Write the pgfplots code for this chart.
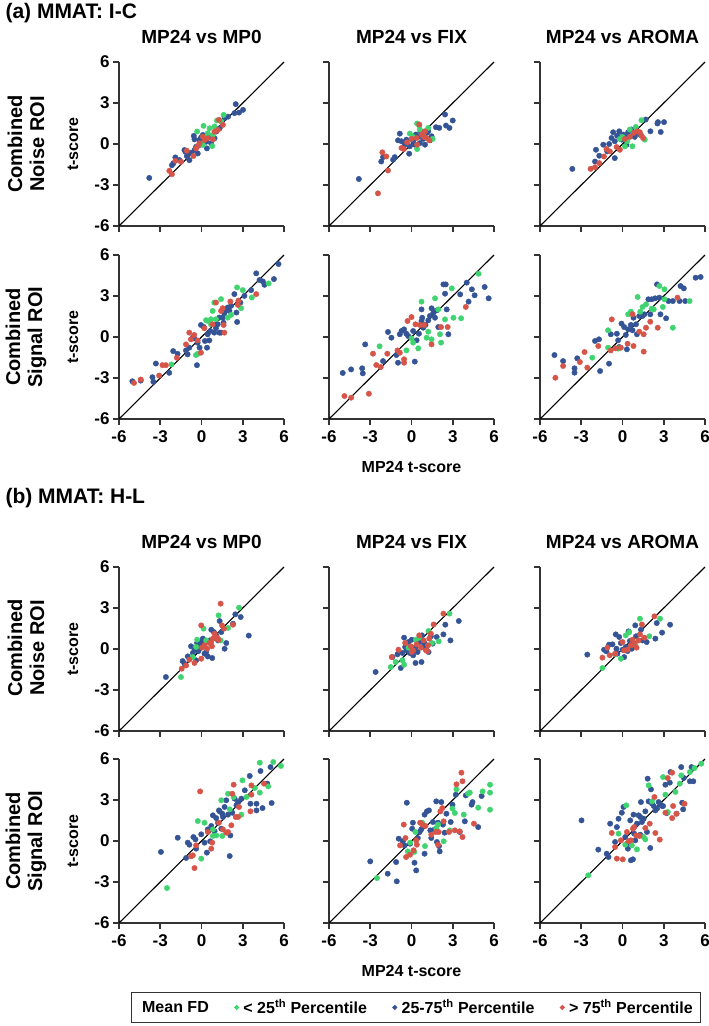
\documentclass[border=0pt]{standalone}
\usepackage{fontspec}
\setmainfont{Liberation Sans}
\usepackage{pgfplots}
\pgfplotsset{compat=1.18}
\definecolor{cg}{RGB}{64,212,112}
\definecolor{cb}{RGB}{52,84,150}
\definecolor{cr}{RGB}{214,84,72}
\newcommand{\fz}[1]{\fontsize{#1}{#1}\selectfont}
\pgfplotsset{
  panel/.style={
    width=165pt, height=164pt, scale only axis, anchor=south west,
    xmin=-6,xmax=6,ymin=-6,ymax=6,
    axis x line*=bottom, axis y line*=left,
    axis line style={-, line width=1.7pt, draw=black!80},
    xtick={-6,-3,0,3,6}, ytick={-6,-3,0,3,6},
    tick align=outside, major tick length=6pt,
    tick style={line width=1.7pt, black!80},
    xticklabels={}, yticklabels={},
    ticklabel style={font=\bfseries\fz{17}, text=black},
    xticklabel style={yshift=-2pt},
    clip=false,
  },
  xlab/.style={xticklabels={-6,-3,0,3,6}},
  ylab/.style={yticklabels={-6,-3,0,3,6}, ylabel={t-score},
     ylabel style={at={(axis description cs:-0.279,0.5)}, anchor=center, font=\bfseries\fz{16}}},
  ctitle/.style={title={#1}, title style={at={(axis description cs:0.5,1)}, anchor=base, yshift=13pt, font=\bfseries\fz{19}}},
}
\newcommand{\pts}[2]{\addplot[only marks, mark=*, mark size=2.7pt, color=#1] coordinates {#2};}
\newcommand{\diag}{\addplot[black, line width=1.1pt, no marks] coordinates {(-6,-6) (6,6)};}
\begin{document}
\begin{tikzpicture}
\useasboundingbox (0,0) rectangle (709pt,-1026pt);
\node[anchor=base west, font=\bfseries\fz{21}] at (2pt,-18pt) {(a) MMAT: I-C};
\node[anchor=base west, font=\bfseries\fz{21}] at (2pt,-503pt) {(b) MMAT: H-L};
\node[rotate=90, align=center, font=\bfseries\fontsize{20}{22}\selectfont] at (26pt,-144pt) {Combined\\Noise ROI};
\node[rotate=90, align=center, font=\bfseries\fontsize{20}{22}\selectfont] at (26pt,-337pt) {Combined\\Signal ROI};
\node[rotate=90, align=center, font=\bfseries\fontsize{20}{22}\selectfont] at (26pt,-648pt) {Combined\\Noise ROI};
\node[rotate=90, align=center, font=\bfseries\fontsize{20}{22}\selectfont] at (26pt,-841pt) {Combined\\Signal ROI};

% ===== (a) row 1 =====
\begin{axis}[panel, ylab, ctitle={MP24 vs MP0}, at={(119pt,-226pt)}]
\diag
\pts{cb}{(-3.8,-2.48) (2.49,2.92) (2.4,2.26) (2.73,2.3) (3.02,2.5) (1.93,2.0) (1.68,1.9) (1.32,1.15) (-2.15,-1.55) (-2.05,-1.42) (-1.9,-0.98) (-1.6,-1.18) (-1.24,-0.44) (-1.07,-0.88) (-0.88,-1.18) (-0.76,-0.64) (-0.51,-0.44) (-0.39,-0.2) (-0.15,-0.07) (-0.15,0.3) (-0.02,0.5) (0.1,0.66) (0.34,0.17) (0.39,-0.32) (0.59,0.54) (0.7,0.05) (0.95,0.42) (1.07,0.91) (-0.56,0.59) (-0.51,0.34) (-0.27,-0.69) (-0.93,-0.69) (-1.17,-0.56)}
\pts{cg}{(-0.32,0.91) (0.15,1.33) (0.59,1.15) (0.95,1.28) (1.12,1.72) (1.61,2.13) (1.44,1.64) (0.78,-0.15) (0.34,0.5) (0.1,-0.07) (0.83,0.66) (0.46,0.79)}
\pts{cr}{(-2.34,-1.96) (-2.15,-2.21) (-1.9,-1.23) (-1.49,-1.3) (-1.07,-0.49) (-0.59,-0.88) (-0.39,-0.32) (-0.15,0.05) (0.22,0.3) (0.46,0.42) (0.83,0.34) (0.95,0.91) (1.2,1.03) (1.27,1.77) (1.56,1.4) (0.1,0.54) (-0.27,-0.15)}
\end{axis}
\begin{axis}[panel, ctitle={MP24 vs FIX}, at={(329pt,-226pt)}]
\diag
\pts{cb}{(-3.83,-2.56) (-2.2,-1.28) (-2.07,-0.96) (-1.34,-1.15) (-1.22,-0.96) (-0.85,0.76) (-0.98,0.27) (-0.73,0.2) (-0.49,-0.05) (-0.37,0.32) (-0.17,-0.71) (-0.12,-0.17) (0.12,0.2) (0.32,0.69) (0.49,0.52) (0.66,0.93) (0.85,0.37) (1.1,0.81) (1.22,0.93) (1.34,0.27) (1.46,0.57) (1.78,1.23) (2.02,1.18) (2.44,2.16) (2.51,1.35) (2.76,1.18) (3.0,1.72) (0.61,0.07) (0.24,-0.05) (0.98,-0.05)}
\pts{cg}{(-0.12,0.76) (0.41,1.5) (0.56,1.35) (0.61,1.06) (1.22,1.18) (1.54,0.37) (0.41,-0.37) (0.85,0.61) (0.12,0.52)}
\pts{cr}{(-2.44,-3.61) (-1.71,-1.94) (-2.12,-0.61) (-1.83,-0.91) (-0.73,-0.29) (-0.56,-0.37) (-0.32,0.12) (0.0,0.37) (0.37,0.44) (0.56,1.43) (0.73,0.69) (0.9,0.52) (1.1,0.44) (1.29,0.27) (0.98,0.93) (0.41,-0.05)}
\end{axis}
\begin{axis}[panel, ctitle={MP24 vs AROMA}, at={(540pt,-226pt)}]
\diag
\pts{cb}{(-3.65,-1.82) (-1.93,-0.42) (-1.69,-0.86) (-2.0,-1.28) (-1.4,-0.05) (-1.11,-0.54) (-0.97,0.0) (-0.8,0.44) (-0.68,0.86) (-0.56,0.2) (-0.39,0.61) (-0.24,0.93) (-0.56,-1.03) (-0.07,0.32) (0.05,0.69) (0.24,0.52) (0.41,0.86) (0.65,1.06) (0.89,0.52) (1.06,0.86) (1.26,0.69) (1.69,1.79) (2.03,0.93) (2.54,1.5) (2.58,1.6) (3.02,1.6) (2.78,0.88) (0.29,-0.05)}
\pts{cg}{(0.0,0.52) (0.34,0.2) (0.53,1.06) (0.72,-0.17) (0.97,1.25) (1.38,1.74) (1.62,0.32) (0.17,-0.17) (-0.19,0.37)}
\pts{cr}{(-2.32,-1.82) (-2.0,-1.7) (-1.69,-1.4) (-1.35,-0.91) (-1.16,-0.37) (-0.92,-0.54) (-0.43,-0.22) (-0.19,-0.42) (0.17,0.37) (0.53,0.52) (0.82,0.81) (1.06,0.93) (1.26,0.86) (1.38,0.61) (1.5,0.44)}
\end{axis}

% ===== (a) row 2 =====
\begin{axis}[panel, ylab, xlab, at={(119pt,-419pt)}]
\diag
\pts{cb}{(-5.03,-3.24) (-4.42,-3.19) (-3.57,-2.94) (-3.5,-3.28) (-3.32,-1.94) (-2.35,-2.62) (-2.06,-1.03) (-1.74,-1.23) (-1.13,-0.98) (-1.01,-1.27) (-0.89,-0.78) (-0.65,-0.05) (-0.53,-0.1) (-0.33,-2.06) (-0.28,-0.42) (-0.14,-0.78) (-0.04,0.88) (0.16,0.74) (0.25,-0.29) (0.4,-0.78) (0.45,0.2) (0.57,-0.25) (0.64,0.44) (0.93,0.32) (1.05,0.64) (1.18,0.93) (1.3,0.32) (1.42,0.32) (1.54,1.42) (1.66,1.72) (1.79,2.03) (1.91,2.16) (2.03,1.91) (2.15,2.28) (2.39,3.14) (2.54,1.79) (2.59,1.1) (2.69,2.65) (2.83,2.52) (3.12,3.01) (3.61,3.43) (3.98,4.66) (4.22,4.17) (4.46,4.07) (4.58,3.82) (5.27,4.24) (5.6,5.34) (1.3,1.42) (1.6,1.05)}
\pts{cg}{(-2.18,-2.01) (-0.4,-1.32) (-0.28,-1.23) (0.33,1.23) (0.69,1.3) (0.81,1.91) (0.93,2.52) (1.42,2.77) (1.91,1.42) (2.15,1.62) (2.59,3.63) (3.0,3.43) (2.88,2.11) (3.66,2.89) (4.88,3.92) (1.05,1.3) (0.69,0.93) (0.45,1.18)}
\pts{cr}{(-4.91,-3.36) (-4.42,-3.11) (-3.08,-2.82) (-2.84,-2.06) (-2.59,-2.06) (-1.79,-1.52) (-1.13,-0.54) (-0.89,0.32) (-0.77,-0.17) (-0.53,0.15) (-0.28,-0.25) (-0.04,-1.15) (0.21,0.64) (0.81,0.93) (1.05,2.52) (1.42,1.91) (1.54,2.11) (1.61,0.88) (1.66,0.32) (2.1,2.6) (2.64,2.35) (2.69,2.65) (3.98,3.14)}
\end{axis}
\begin{axis}[panel, xlab, xlabel={MP24 t-score}, xlabel style={at={(axis description cs:0.5,0)}, anchor=center, yshift=-48pt, font=\bfseries\fz{16}}, at={(329pt,-419pt)}]
\diag
\pts{cb}{(-5.0,-2.63) (-4.39,-2.37) (-3.59,-2.29) (-3.54,-2.66) (-3.37,-0.54) (-2.07,-1.76) (-1.71,0.37) (-1.46,-0.05) (-1.1,-1.32) (-0.98,-1.88) (-0.85,0.2) (-0.73,0.44) (-0.54,0.56) (-0.37,0.24) (-0.24,0.07) (0.12,0.44) (0.24,-1.8) (0.37,-0.24) (0.54,0.24) (0.73,2.02) (0.78,1.41) (0.85,0.68) (1.02,0.88) (1.22,1.22) (1.34,1.54) (1.46,2.1) (1.59,1.78) (1.71,1.41) (1.83,1.95) (1.95,0.73) (2.32,3.85) (2.44,3.17) (2.56,2.02) (2.68,0.2) (2.49,3.85) (3.54,3.12) (4.02,3.98) (4.15,2.59) (4.39,3.49) (4.59,3.05) (5.32,3.66) (5.61,2.83) (0.73,1.17)}
\pts{cg}{(-2.32,-0.68) (-0.37,-0.98) (0.0,-0.1) (0.49,-0.83) (0.73,2.59) (1.1,-0.05) (1.22,0.39) (1.46,-0.17) (1.71,2.83) (1.95,2.02) (2.07,0.2) (2.15,-0.41) (2.44,1.29) (2.93,3.56) (3.05,1.41) (3.61,1.37) (4.88,4.63) (0.12,-0.41)}
\pts{cr}{(-4.88,-4.32) (-4.39,-4.44) (-3.1,-4.15) (-2.8,-1.22) (-2.56,-2.05) (-2.24,-2.2) (-1.76,-1.22) (-1.02,-0.98) (-0.85,-1.15) (-0.54,-1.88) (-0.54,-1.63) (0.0,1.46) (0.29,0.93) (0.61,0.88) (0.93,0.88) (1.46,-0.54) (2.15,0.73) (2.63,0.73) (3.95,2.2) (-0.29,1.17)}
\end{axis}
\begin{axis}[panel, xlab, at={(540pt,-419pt)}]
\diag
\pts{cb}{(-4.95,-1.32) (-4.32,-1.76) (-3.49,-2.29) (-3.49,-2.61) (-3.29,-1.56) (-2.0,-0.29) (-1.63,-2.49) (-1.71,-0.17) (-0.98,-1.95) (-0.85,0.2) (-0.41,0.24) (-0.32,-0.24) (-0.24,-0.73) (0.12,0.73) (0.24,0.15) (0.32,-0.9) (0.41,0.56) (0.61,0.88) (0.8,1.41) (0.73,0.49) (0.98,0.93) (1.05,0.2) (1.22,1.54) (1.46,1.54) (1.59,1.66) (1.88,2.76) (2.02,1.66) (2.12,2.76) (2.37,2.83) (2.51,3.85) (2.68,2.88) (2.76,1.66) (3.17,1.37) (3.34,2.63) (3.66,2.63) (4.15,2.63) (4.22,3.73) (4.46,3.56) (4.56,2.63) (5.32,4.34) (5.68,4.39) (-0.07,0.98)}
\pts{cg}{(-2.2,-1.51) (-1.05,0.49) (-0.32,-0.85) (-0.17,-0.78) (0.41,1.66) (0.61,1.85) (1.1,2.93) (1.29,1.85) (1.46,2.2) (1.71,2.39) (2.12,2.07) (2.27,2.02) (2.68,3.73) (2.93,2.2) (3.05,2.76) (3.05,3.49) (3.66,0.68) (4.88,2.63) (-1.05,-0.78)}
\pts{cr}{(-4.88,-2.98) (-4.32,-2.12) (-3.1,-1.83) (-2.76,-1.1) (-2.56,-2.24) (-1.76,-0.66) (-0.85,-0.98) (-0.78,1.29) (-0.49,-0.83) (-0.12,-0.78) (0.37,-0.49) (0.8,-0.66) (1.22,0.39) (1.54,0.2) (1.54,-1.07) (1.71,0.68) (2.02,1.12) (2.56,0.68) (4.0,2.88) (0.73,1.66)}
\end{axis}

% ===== (b) row 1 =====
\begin{axis}[panel, ylab, ctitle={MP24 vs MP0}, at={(119pt,-731pt)}]
\diag
\pts{cb}{(-2.59,-2.05) (-1.37,-0.88) (-1.24,-1.07) (-1.0,-0.54) (-0.76,0.2) (-0.63,-0.29) (-0.51,-0.05) (-0.39,-0.83) (-0.32,0.44) (-0.22,-0.15) (-0.07,0.1) (-0.02,0.51) (0.1,0.76) (0.22,-0.34) (0.34,-0.22) (0.46,-0.54) (0.59,0.63) (0.71,1.41) (0.78,-0.66) (0.9,1.24) (1.07,1.0) (1.2,0.63) (1.32,2.05) (1.44,1.24) (1.68,0.02) (1.8,0.44) (2.29,1.85) (2.46,2.54) (2.85,2.34) (3.44,0.98) (-0.15,0.39) (0.1,0.2)}
\pts{cg}{(-1.49,-2.05) (-0.63,-0.59) (-0.32,0.68) (0.15,1.49) (0.34,0.63) (1.24,2.46) (1.39,0.63) (1.93,1.54) (2.73,3.02) (-0.39,0.15)}
\pts{cr}{(-1.44,-1.44) (-1.12,-1.2) (-0.88,-0.78) (-0.51,-1.02) (-0.02,-0.71) (-0.02,1.73) (0.02,0.1) (0.22,0.27) (0.41,0.02) (0.59,0.44) (0.76,0.2) (0.83,0.76) (0.95,1.12) (1.15,0.83) (1.24,0.68) (1.39,3.32) (1.49,1.73) (1.63,1.49) (2.29,1.78) (0.71,0.51)}
\end{axis}
\begin{axis}[panel, ctitle={MP24 vs FIX}, at={(329pt,-731pt)}]
\diag
\pts{cb}{(-2.61,-1.68) (-0.78,-1.39) (-1.39,-0.59) (-1.02,-0.39) (-0.66,-0.29) (-0.54,0.83) (-0.46,0.15) (-0.37,-0.1) (-0.22,0.51) (-0.12,-0.29) (0.02,0.68) (0.12,-0.46) (0.27,0.1) (0.29,-1.02) (0.44,-0.22) (0.56,0.51) (0.73,-0.95) (0.76,1.0) (0.93,0.44) (1.05,0.02) (1.24,-0.22) (1.41,0.93) (1.54,0.39) (1.83,0.88) (2.32,1.07) (2.46,1.78) (2.83,0.63) (3.44,2.05) (0.8,0.15)}
\pts{cg}{(-1.51,-1.32) (-1.15,-0.95) (-0.66,-0.83) (-0.54,-1.15) (0.32,0.68) (0.56,0.83) (1.24,1.32) (1.49,0.44) (1.98,0.56) (2.76,2.59) (-0.22,0.1)}
\pts{cr}{(-1.44,-0.59) (-0.95,-0.05) (-0.46,0.44) (-0.05,0.2) (0.12,-0.1) (0.37,0.34) (0.56,1.0) (0.68,0.1) (0.88,0.63) (1.05,-0.1) (1.2,0.27) (1.29,0.76) (1.41,1.12) (1.61,1.8) (1.17,-0.15) (2.32,2.59) (0.02,-0.22)}
\end{axis}
\begin{axis}[panel, ctitle={MP24 vs AROMA}, at={(540pt,-731pt)}]
\diag
\pts{cb}{(-2.56,-0.41) (-1.34,-0.05) (-1.17,-0.17) (-0.98,0.32) (-0.73,0.34) (-0.49,1.07) (-0.44,0.02) (-0.24,0.88) (-0.12,0.44) (0.0,-0.05) (0.12,-0.59) (0.24,0.15) (0.44,1.29) (0.54,0.59) (0.68,0.02) (0.78,0.34) (0.93,1.73) (0.98,0.93) (1.34,1.41) (1.46,0.63) (1.76,0.51) (2.39,0.76) (2.49,1.9) (2.88,1.2) (3.46,1.78) (-0.37,-0.34) (0.37,-0.15)}
\pts{cg}{(-1.46,-1.39) (-0.54,-0.39) (-0.12,-0.71) (0.24,1.0) (0.49,1.24) (1.27,2.22) (1.95,0.93) (2.73,2.22) (0.93,0.34)}
\pts{cr}{(-1.46,-0.63) (-1.1,0.1) (-0.93,-0.46) (-0.54,-0.34) (0.0,0.51) (0.12,-0.1) (0.37,-0.05) (0.61,0.27) (0.85,0.44) (1.02,0.1) (1.17,0.63) (1.27,1.07) (1.41,1.8) (1.59,0.83) (2.32,2.39) (0.73,0.68)}
\end{axis}

% ===== (b) row 2 =====
\begin{axis}[panel, ylab, xlab, at={(119pt,-923pt)}]
\diag
\pts{cb}{(-2.95,-0.8) (-1.73,0.24) (-1.12,-1.24) (-1.0,-0.12) (-0.88,-0.27) (-0.59,0.29) (-0.44,0.12) (-0.39,-0.56) (-0.02,0.49) (0.22,-0.12) (0.39,-0.85) (0.46,0.85) (0.63,-0.02) (0.71,1.1) (0.83,1.88) (0.95,0.71) (1.07,1.68) (1.2,1.34) (1.32,2.17) (1.44,0.9) (1.56,1.76) (1.68,2.49) (1.8,2.98) (1.93,1.93) (2.05,-1.1) (2.1,0.41) (2.24,2.07) (2.41,3.1) (2.54,2.61) (2.66,2.85) (2.9,3.1) (3.15,3.71) (3.51,4.76) (3.56,2.73) (4.0,2.73) (4.0,2.24) (4.29,5.12) (4.44,2.41) (4.78,4.2) (5.1,2.78) (5.02,5.41) (1.27,2.24) (1.51,2.0)}
\pts{cg}{(-2.51,-3.44) (-0.02,-1.29) (-0.27,1.46) (0.22,1.34) (0.83,0.37) (1.07,0.41) (1.51,0.37) (1.44,2.98) (1.93,3.46) (2.34,3.22) (2.9,1.93) (2.98,4.44) (3.27,3.22) (3.88,3.88) (4.24,3.54) (4.24,5.73) (4.85,4.0) (5.22,5.78) (5.78,5.49) (0.83,0.85) (2.05,2.32)}
\pts{cr}{(-0.76,-1.12) (-0.63,-1.05) (-0.51,-1.98) (-0.39,-0.32) (-0.1,3.63) (0.46,0.66) (0.78,-0.12) (0.71,-0.56) (1.27,1.34) (1.8,0.61) (1.93,0.66) (2.17,1.15) (2.24,3.46) (2.34,4.12) (2.49,1.76) (2.66,1.76) (2.73,2.49) (3.56,2.17) (3.63,4.07) (3.63,3.39) (4.54,4.2) (1.56,0.85)}
\end{axis}
\begin{axis}[panel, xlab, xlabel={MP24 t-score}, xlabel style={at={(axis description cs:0.5,0)}, anchor=center, yshift=-48pt, font=\bfseries\fz{16}}, at={(329pt,-923pt)},
  legend style={at={(axis description cs:0.527,-0.515)}, anchor=center, legend columns=4, draw=black!80, line width=1.2pt, font=\bfseries\fz{16}, inner xsep=6pt, inner ysep=5pt, /tikz/every even column/.append style={column sep=24pt}, /tikz/every odd column/.append style={column sep=3pt}}]
\addlegendimage{empty legend}\addlegendentry{Mean FD}
\addlegendimage{only marks, mark=*, mark size=1.8pt, color=cg}\addlegendentry{< 25\textsuperscript{th} Percentile}
\addlegendimage{only marks, mark=*, mark size=1.8pt, color=cb}\addlegendentry{25-75\textsuperscript{th} Percentile}
\addlegendimage{only marks, mark=*, mark size=1.8pt, color=cr}\addlegendentry{> 75\textsuperscript{th} Percentile}
\addplot[black, line width=1.1pt, no marks, forget plot] coordinates {(-6,-6) (6,6)};
\addplot[only marks, mark=*, mark size=2.7pt, color=cb, forget plot] coordinates {(-3.0,-1.49) (-1.73,-2.39) (-1.12,-1.54) (-1.07,-2.95) (-0.93,0.17) (-0.63,-0.02) (-0.51,-0.32) (-0.34,2.8) (0.05,0.9) (0.1,1.34) (0.22,-1.59) (0.34,-2.15) (0.46,0.22) (0.59,0.66) (0.71,0.85) (0.83,1.2) (0.95,1.93) (0.95,-0.93) (1.12,2.17) (1.27,2.24) (1.37,0.78) (1.44,0.22) (1.56,1.39) (1.68,0.85) (1.8,2.9) (1.85,-0.07) (2.0,-0.37) (2.05,-0.76) (1.93,1.34) (2.17,2.85) (2.29,1.2) (2.41,0.61) (2.54,2.0) (2.85,1.39) (2.98,2.66) (3.22,3.39) (3.51,0.66) (3.88,1.44) (3.95,3.34) (4.37,2.66) (4.44,2.85) (4.85,1.02) (5.1,3.29) (-0.1,-0.2)};
\addplot[only marks, mark=*, mark size=2.7pt, color=cg, forget plot] coordinates {(-2.51,-2.71) (-0.27,-0.76) (-0.1,-0.12) (0.2,-0.8) (0.29,0.66) (0.78,1.34) (0.98,-0.37) (1.8,0.95) (2.34,-0.02) (2.78,0.78) (2.98,2.37) (3.15,2.05) (3.27,3.78) (3.8,1.93) (4.12,3.46) (4.24,3.54) (4.85,2.44) (5.17,3.63) (5.71,4.12) (5.71,3.54) (5.71,2.29) (1.93,1.2)};
\addplot[only marks, mark=*, mark size=2.7pt, color=cr, forget plot] coordinates {(-0.56,1.2) (-0.83,-0.32) (-0.44,0.22) (-0.39,-1.17) (-0.1,-1.0) (0.15,-0.68) (0.34,0.05) (0.39,-0.27) (0.63,1.34) (0.78,1.2) (1.02,1.1) (1.44,0.46) (1.76,0.66) (1.93,-0.27) (2.1,2.17) (2.24,2.41) (2.34,1.44) (2.73,0.66) (3.15,0.78) (3.27,4.15) (3.51,0.71) (3.63,5.0) (3.71,4.37) (3.71,0.29) (4.54,1.27) (1.98,0.66)};
\end{axis}
\begin{axis}[panel, xlab, at={(540pt,-923pt)}]
\diag
\pts{cb}{(-2.98,1.51) (-1.76,-0.63) (-1.15,-0.93) (-1.02,-1.17) (-0.9,1.27) (-0.54,-0.07) (-0.41,1.02) (-0.29,1.63) (-0.05,2.07) (0.07,2.49) (0.2,0.29) (0.32,-0.2) (0.39,-0.56) (0.56,1.51) (0.61,-1.41) (0.76,-1.34) (0.8,1.93) (0.85,0.54) (0.93,0.05) (1.05,1.27) (1.17,1.88) (1.29,0.46) (1.34,2.85) (1.41,1.39) (1.54,1.63) (1.66,2.17) (1.78,0.66) (1.83,4.56) (1.9,2.9) (2.02,-0.51) (2.07,3.78) (2.15,2.73) (2.27,2.56) (2.39,2.24) (2.51,2.37) (2.63,2.85) (2.76,2.66) (2.88,2.56) (2.95,2.56) (3.12,4.12) (3.24,2.05) (3.44,4.27) (3.49,5.05) (3.93,2.0) (4.27,5.41) (4.34,2.8) (4.41,2.32) (4.46,4.61) (4.9,4.37) (5.02,5.41) (5.15,4.37) (1.29,1.76)}
\pts{cg}{(-2.49,-2.51) (-0.29,0.54) (0.27,2.61) (0.2,-0.27) (1.05,-0.61) (1.54,0.29) (1.66,0.12) (1.9,4.07) (2.15,2.9) (2.95,4.68) (3.12,3.39) (3.29,2.12) (3.85,3.59) (4.17,4.2) (4.27,4.8) (4.9,5.05) (5.24,5.34) (5.73,5.66) (0.68,-0.32)}
\pts{cr}{(-0.78,0.59) (-0.54,-0.44) (-0.41,-1.29) (-0.12,0.05) (0.02,-1.34) (0.32,0.66) (0.44,-0.02) (0.61,0.05) (0.76,0.9) (0.85,1.02) (1.0,0.41) (1.24,0.37) (1.66,0.95) (1.98,1.27) (2.32,3.22) (2.39,0.59) (2.71,0.1) (3.12,2.07) (3.29,4.61) (3.61,5.0) (3.68,2.56) (3.61,1.68) (3.93,2.0) (4.51,2.73)}
\end{axis}
\end{tikzpicture}
\end{document}
